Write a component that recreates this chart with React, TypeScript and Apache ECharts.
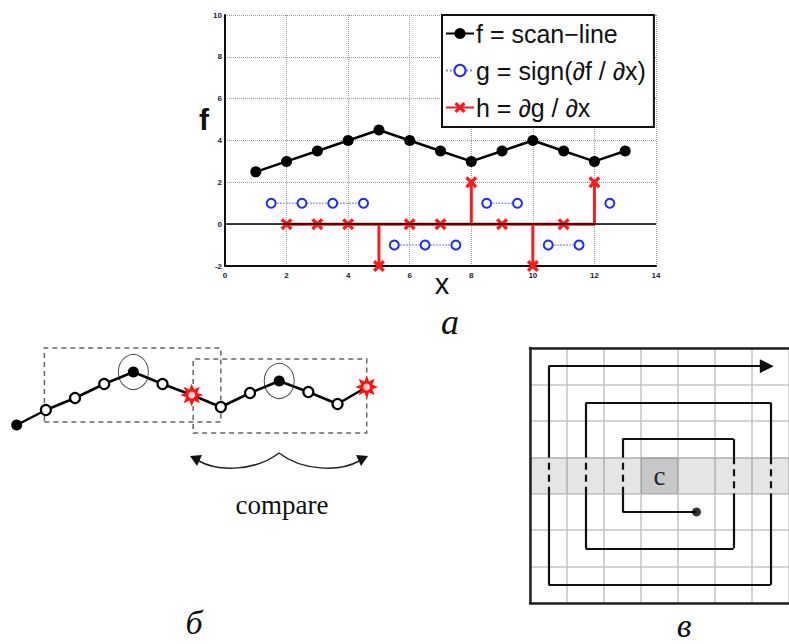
import { useEffect, useRef } from 'react';
import * as echarts from 'echarts';

// ---- Panel а: scan-line analysis ----
const fX = [1, 2, 3, 4, 5, 6, 7, 8, 9, 10, 11, 12, 13];
const fValues = [2.5, 3, 3.5, 4, 4.5, 4, 3.5, 3, 3.5, 4, 3.5, 3, 3.5];
const gX = [1.5, 2.5, 3.5, 4.5, 5.5, 6.5, 7.5, 8.5, 9.5, 10.5, 11.5, 12.5];
const gValues = [1, 1, 1, 1, -1, -1, -1, 1, 1, -1, -1, 1];
const hX = [2, 3, 4, 5, 6, 7, 8, 9, 10, 11, 12];
const hValues = [0, 0, 0, -2, 0, 0, 2, 0, -2, 0, 2];
const seriesNames = ['f = scan\u2212line', 'g = sign(\u2202f / \u2202x)', 'h = \u2202g / \u2202x'];

// ---- Panel б: chain of samples ----
const chainValues = [15, 30, 42, 56, 68, 56, 45, 33, 47, 59, 48, 36, 53];
const chainKinds = ['end', 'open', 'open', 'open', 'peak', 'open', 'break', 'open', 'open', 'peak', 'open', 'open', 'break'];
const compareBoxes = [
  [0.95, 18, 7.0, 92],
  [6.05, 7, 12.0, 81],
];

// ---- Panel в: spiral scan ----
const cellCount = 7;
const bandRow = 3;
const markedCol = 3;
const spiralCols = [4.5, 2.5, 2.5, 5.5, 5.5, 1.5, 1.5, 6.5, 6.5, 0.5, 0.5, 6.4];
const spiralRows = [4.5, 4.5, 2.5, 2.5, 5.5, 5.5, 1.5, 1.5, 6.5, 6.5, 0.5, 0.5];

const X_MARK = 'path://M2,0L5,3L8,0L10,2L7,5L10,8L8,10L5,7L2,10L0,8L3,5L0,2Z';

function starPath() {
  const pts: string[] = [];
  for (let k = 0; k < 16; k++) {
    const r = k % 2 === 0 ? 10 : 5.2;
    const a = (Math.PI * k) / 8 - Math.PI / 2;
    pts.push(`${(10 + r * Math.cos(a)).toFixed(2)},${(10 + r * Math.sin(a)).toFixed(2)}`);
  }
  return 'path://M' + pts.join('L') + 'Z';
}

function buildOption() {
  const SANS = 'Liberation Sans';
  const SERIF = 'Liberation Serif';

  // g: break the dotted line where the sign changes
  const gData: any[] = [];
  gX.forEach((x, i) => {
    if (i > 0 && gValues[i] !== gValues[i - 1]) gData.push(['-', '-']);
    gData.push([x, gValues[i]]);
  });

  // h: stems from the zero baseline
  const hData: any[] = [];
  hX.forEach((x, i) => {
    const v = hValues[i];
    if (v === 0) {
      hData.push({ value: [x, 0] });
    } else {
      hData.push({ value: [x, 0], symbol: 'none' });
      hData.push({ value: [x, v] });
      hData.push({ value: [x, 0], symbol: 'none' });
    }
  });

  const STAR = starPath();
  const chainData = chainValues.map((v, i) => {
    const k = chainKinds[i];
    if (k === 'end' || k === 'peak') {
      return { value: [i, v], symbol: 'circle', symbolSize: 11, itemStyle: { color: '#000', borderColor: '#000', borderWidth: 0 } };
    }
    if (k === 'break') {
      return { value: [i, v], symbol: STAR, symbolSize: 23, itemStyle: { color: '#ff1010', borderWidth: 0 } };
    }
    return { value: [i, v], symbol: 'circle', symbolSize: 10, itemStyle: { color: '#fff', borderColor: '#000', borderWidth: 2.2 } };
  });
  const breakData = chainValues.map((v, i) => (chainKinds[i] === 'break' ? [i, v] : null)).filter(Boolean);
  const peakData = chainValues.map((v, i) => (chainKinds[i] === 'peak' ? [i, v] : null)).filter(Boolean);

  // spiral segments, dashed where they cross the shaded row
  const pts = spiralCols.map((c, i) => [c, spiralRows[i]]);
  const solidSegs: any[] = [];
  const dashSegs: any[] = [];
  for (let i = 0; i < pts.length - 2; i++) {
    const a = pts[i];
    const b = pts[i + 1];
    const lo = Math.min(a[1], b[1]);
    const hi = Math.max(a[1], b[1]);
    if (a[0] === b[0] && lo < bandRow && hi > bandRow + 1) {
      const down = b[1] > a[1];
      const e1 = down ? bandRow : bandRow + 1;
      const e2 = down ? bandRow + 1 : bandRow;
      solidSegs.push({ coords: [a, [a[0], e1]] });
      dashSegs.push({ coords: [[a[0], e1], [a[0], e2]] });
      solidSegs.push({ coords: [[a[0], e2], b] });
    } else {
      solidSegs.push({ coords: [a, b] });
    }
  }
  const lastSeg = [{ coords: [pts[pts.length - 2], pts[pts.length - 1]] }];

  const cellAxisBase = {
    gridIndex: 2, type: 'value', min: 0, max: cellCount, interval: 1,
    axisTick: { show: false }, axisLabel: { show: false },
  };

  return {
    animation: false,
    backgroundColor: '#fff',
    legend: {
      data: seriesNames,
      orient: 'vertical',
      left: 442,
      top: 15,
      backgroundColor: '#fff',
      borderColor: '#111',
      borderWidth: 2,
      borderRadius: 0,
      padding: [6, 8, 7, 3],
      itemGap: 12,
      itemWidth: 28,
      itemHeight: 14,
      textStyle: { fontFamily: SANS, fontSize: 25, color: '#111', padding: [0, 0, 0, -3] },
      selectedMode: false,
    },
    grid: [
      { left: 225, top: 15, width: 431, height: 251 },
      { left: 16.7, top: 340, width: 350, height: 100 },
      { left: 530, top: 348, width: 269.5, height: 255 },
    ],
    xAxis: [
      {
        gridIndex: 0, type: 'value', min: 0, max: 14, interval: 2,
        axisLine: { show: true, onZero: false, lineStyle: { color: '#111', width: 2 } },
        axisTick: { show: false },
        axisLabel: { fontSize: 8, fontWeight: 'bold', color: '#1a1a3a', fontFamily: SANS, margin: 5 },
        splitLine: { show: true, lineStyle: { color: '#9a9a9a', type: 'dotted', width: 1 } },
      },
      { gridIndex: 1, type: 'value', min: 0, max: 12, show: false },
      {
        ...cellAxisBase, position: 'bottom',
        axisLine: { show: true, onZero: false, lineStyle: { color: '#222', width: 2.5 } },
        splitLine: { show: true, lineStyle: { color: '#c4c4c4', width: 1.5 } },
      },
      {
        ...cellAxisBase, position: 'top',
        axisLine: { show: true, onZero: false, lineStyle: { color: '#222', width: 2.5 } },
        splitLine: { show: false },
      },
    ],
    yAxis: [
      {
        gridIndex: 0, type: 'value', min: -2, max: 10, interval: 2,
        axisLine: { show: true, onZero: false, lineStyle: { color: '#111', width: 2 } },
        axisTick: { show: false },
        axisLabel: { fontSize: 8, fontWeight: 'bold', color: '#1a1a3a', fontFamily: SANS, margin: 3 },
        splitLine: { show: true, lineStyle: { color: '#9a9a9a', type: 'dotted', width: 1 } },
      },
      { gridIndex: 1, type: 'value', min: 0, max: 100, show: false },
      {
        ...cellAxisBase, inverse: true, position: 'left',
        axisLine: { show: true, onZero: false, lineStyle: { color: '#222', width: 2.5 } },
        splitLine: { show: true, lineStyle: { color: '#c4c4c4', width: 1.5 } },
      },
    ],
    series: [
      {
        name: seriesNames[0], type: 'line', xAxisIndex: 0, yAxisIndex: 0,
        data: fX.map((x, i) => [x, fValues[i]]),
        symbol: 'circle', symbolSize: 11,
        itemStyle: { color: '#000' },
        lineStyle: { color: '#000', width: 2.5 },
        markLine: {
          silent: true, symbol: 'none', label: { show: false },
          lineStyle: { color: '#000', width: 1.5, type: 'solid' },
          data: [{ yAxis: 0 }],
        },
      },
      {
        name: seriesNames[1], type: 'line', xAxisIndex: 0, yAxisIndex: 0,
        data: gData, connectNulls: false,
        symbol: 'emptyCircle', symbolSize: 9,
        itemStyle: { color: '#1f2bff', borderColor: '#1f2bff', borderWidth: 2.6 },
        lineStyle: { color: '#8088ff', width: 1.5, type: 'dotted' },
      },
      {
        name: seriesNames[2], type: 'line', xAxisIndex: 0, yAxisIndex: 0,
        data: hData,
        symbol: X_MARK, symbolSize: 12, showAllSymbol: true,
        itemStyle: { color: '#ff1a1a' },
        lineStyle: { color: '#ff1a1a', width: 3 },
        z: 3,
      },
      // panel б
      {
        name: 'chain', type: 'line', xAxisIndex: 1, yAxisIndex: 1,
        data: chainData, showAllSymbol: true,
        lineStyle: { color: '#000', width: 2.5 },
        z: 3,
        markArea: {
          silent: true,
          itemStyle: { color: 'rgba(0,0,0,0)', borderColor: '#666', borderWidth: 1.5, borderType: [5, 4] },
          data: compareBoxes.map((b) => [{ coord: [b[0], b[1]] }, { coord: [b[2], b[3]] }]),
        },
      },
      {
        name: 'breakCenter', type: 'scatter', xAxisIndex: 1, yAxisIndex: 1,
        data: breakData, symbol: 'circle', symbolSize: 7,
        itemStyle: { color: '#fff' }, z: 4,
      },
      {
        name: 'peakRing', type: 'scatter', xAxisIndex: 1, yAxisIndex: 1,
        data: peakData, symbol: 'circle', symbolSize: [30, 35],
        itemStyle: { color: 'rgba(0,0,0,0)', borderColor: '#111', borderWidth: 1 }, z: 4,
      },
      // panel в
      {
        name: 'spiral', type: 'lines', coordinateSystem: 'cartesian2d', xAxisIndex: 2, yAxisIndex: 2,
        data: solidSegs, symbol: 'none',
        lineStyle: { color: '#111', width: 2.2, opacity: 1, curveness: 0 },
        z: 4,
        markArea: {
          silent: true,
          data: [
            [{ coord: [0, bandRow], itemStyle: { color: 'rgba(0,0,0,0.1)' } }, { coord: [cellCount, bandRow + 1] }],
            [
              {
                coord: [markedCol, bandRow], name: 'c',
                itemStyle: { color: 'rgba(0,0,0,0.13)' },
                label: { show: true, position: 'inside', formatter: '{b}', fontFamily: SERIF, fontSize: 27, color: '#1b2036' },
              },
              { coord: [markedCol + 1, bandRow + 1] },
            ],
          ],
        },
      },
      {
        name: 'spiralBand', type: 'lines', coordinateSystem: 'cartesian2d', xAxisIndex: 2, yAxisIndex: 2,
        data: dashSegs, symbol: 'none',
        lineStyle: { color: '#111', width: 2.2, opacity: 1, type: [7, 5], curveness: 0 },
        z: 4,
      },
      {
        name: 'spiralEnd', type: 'lines', coordinateSystem: 'cartesian2d', xAxisIndex: 2, yAxisIndex: 2,
        data: lastSeg, symbol: ['none', 'triangle'], symbolSize: [12, 14],
        lineStyle: { color: '#111', width: 2.2, opacity: 1, curveness: 0 },
        z: 4,
      },
      {
        name: 'spiralStart', type: 'scatter', xAxisIndex: 2, yAxisIndex: 2,
        data: [[spiralCols[0], spiralRows[0]]], symbol: 'circle', symbolSize: 9,
        itemStyle: { color: '#000' }, z: 5,
      },
    ],
    graphic: [
      { type: 'text', left: 199, top: 104, style: { text: 'f', font: `bold 30px "${SANS}"`, fill: '#111' } },
      { type: 'text', x: 442, y: 284, style: { text: 'x', font: `29px "${SANS}"`, fill: '#111', align: 'center', verticalAlign: 'middle' } },
      { type: 'text', x: 450, y: 322, style: { text: '\u0430', font: `italic 36px "${SERIF}"`, fill: '#111', align: 'center', verticalAlign: 'middle' } },
      { type: 'text', x: 194, y: 622, style: { text: '\u0431', font: `italic 34px "${SERIF}"`, fill: '#111', align: 'center', verticalAlign: 'middle' } },
      { type: 'text', x: 684, y: 625, style: { text: '\u0432', font: `italic 34px "${SERIF}"`, fill: '#111', align: 'center', verticalAlign: 'middle' } },
      { type: 'text', x: 282, y: 505, style: { text: 'compare', font: `27px "${SERIF}"`, fill: '#111', align: 'center', verticalAlign: 'middle' } },
      {
        type: 'bezierCurve',
        shape: { x1: 199, y1: 461, cpx1: 218, cpy1: 472, cpx2: 256, cpy2: 471, x2: 279, y2: 453 },
        style: { stroke: '#222', lineWidth: 1.5, fill: 'none' },
      },
      {
        type: 'bezierCurve',
        shape: { x1: 279, y1: 453, cpx1: 302, cpy1: 471, cpx2: 340, cpy2: 472, x2: 359, y2: 461 },
        style: { stroke: '#222', lineWidth: 1.5, fill: 'none' },
      },
      { type: 'polygon', shape: { points: [[190, 456], [202, 455], [197, 466]] }, style: { fill: '#111' } },
      { type: 'polygon', shape: { points: [[368, 456], [356, 455], [361, 466]] }, style: { fill: '#111' } },
    ],
  };
}

export default function App() {
  const ref = useRef<HTMLDivElement>(null);
  useEffect(() => {
    if (!ref.current) return;
    const chart = echarts.init(ref.current, undefined, { renderer: 'svg' });
    chart.setOption(buildOption() as any);
    return () => chart.dispose();
  }, []);
  return <div ref={ref} style={{ position: 'absolute', left: 0, top: 0, width: 789, height: 644 }} />;
}
